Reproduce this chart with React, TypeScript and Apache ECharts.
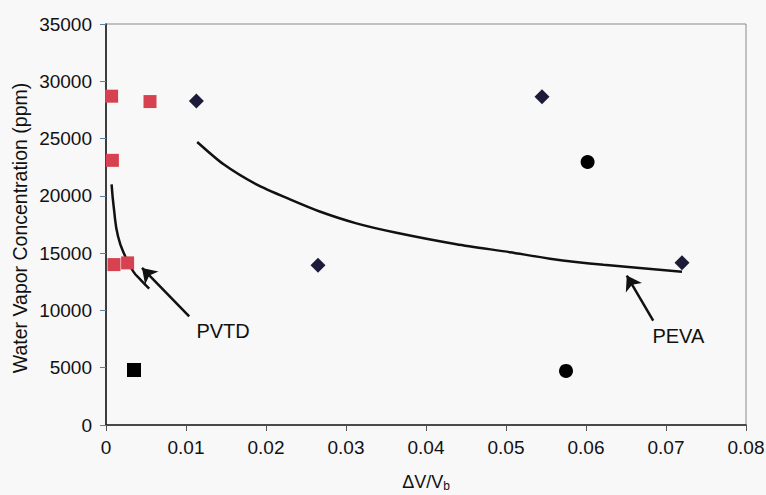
import React, { useEffect, useRef } from "react";
import * as echarts from "echarts";

// PVTD measurements (red squares)
const pvtdX = [0.0007, 0.0055, 0.0008, 0.001, 0.0027];
const pvtdY = [28700, 28230, 23100, 14000, 14150];
// Extra black square
const blackSqX = [0.0035];
const blackSqY = [4800];
// PEVA measurements (diamonds)
const pevaX = [0.0113, 0.0265, 0.0545, 0.072];
const pevaY = [28290, 13940, 28640, 14170];
// Black circles
const circleX = [0.0602, 0.0575];
const circleY = [22950, 4720];
// PEVA trend curve
const pevaFitX = [0.0114, 0.0147, 0.0188, 0.023, 0.0268, 0.0313, 0.0363, 0.0438, 0.0505, 0.0555, 0.0622, 0.072];
const pevaFitY = [24700, 22750, 21000, 19690, 18610, 17600, 16780, 15780, 15080, 14520, 13980, 13380];
// PVTD trend curve
const pvtdFitX = [0.0007, 0.001, 0.0015, 0.0024, 0.0034, 0.0043, 0.0054];
const pvtdFitY = [21000, 18810, 16480, 14730, 13410, 12690, 11900];
// Annotations
const labelNames = ["PVTD", "PEVA"];
const labelX = [0.0113, 0.0683];
const labelY = [8200, 7750];
const arrowFrom = [[0.0104, 9480], [0.0684, 9100]];
const arrowTo = [[0.0045, 13710], [0.0651, 13040]];
const yTicks = [0, 5000, 10000, 15000, 20000, 25000, 30000, 35000];

const zip = (xs: number[], ys: number[]) => xs.map((x, i) => [x, ys[i]]);

export default function App() {
  const ref = useRef<HTMLDivElement>(null);
  useEffect(() => {
    if (!ref.current) return;
    const chart = echarts.init(ref.current, null, { renderer: "svg" });
    const font = "Liberation Sans, Arial, sans-serif";
    chart.setOption({
      animation: false,
      backgroundColor: "#f8f8f8",
      textStyle: { fontFamily: font },
      grid: {
        left: 106,
        right: 20,
        top: 24,
        bottom: 70,
        show: true,
        borderColor: "#8a8a8a",
        borderWidth: 1,
        backgroundColor: "transparent",
        outerBoundsMode: "none",
        containLabel: false,
      },
      xAxis: {
        type: "value",
        min: 0,
        max: 0.08,
        interval: 0.01,
        axisLine: { onZero: false, lineStyle: { color: "#222", width: 1.5 } },
        axisTick: { show: true, length: 6, lineStyle: { color: "#555" } },
        splitLine: { show: false },
        axisLabel: {
          fontSize: 19,
          color: "#111",
          margin: 13,
          fontFamily: font,
          formatter: (v: number) => (v === 0 ? "0" : v.toFixed(2)),
        },
        name: "ΔV/V{s|b}",
        nameLocation: "middle",
        nameGap: 47,
        nameTextStyle: {
          fontSize: 18,
          color: "#111",
          fontFamily: font,
          rich: { s: { fontSize: 12, verticalAlign: "bottom", padding: [8, 0, 0, 0], color: "#111" } },
        },
      },
      yAxis: {
        type: "value",
        min: yTicks[0],
        max: yTicks[yTicks.length - 1],
        interval: 5000,
        axisLine: { show: true, onZero: false, lineStyle: { color: "#111", width: 1.5 } },
        axisTick: { show: true, length: 6, lineStyle: { color: "#5a7fa8" } },
        splitLine: { show: false },
        axisLabel: {
          fontSize: 19,
          color: "#111",
          margin: 14,
          fontFamily: font,
          formatter: (v: number) => String(v),
        },
      },
      graphic: [
        {
          type: "text",
          x: 20,
          y: 228,
          rotation: Math.PI / 2,
          style: {
            text: "Water Vapor Concentration (ppm)",
            fontSize: 19.5,
            fontFamily: font,
            fill: "#111",
            align: "center",
            verticalAlign: "middle",
          },
        },
      ],
      series: [
        {
          type: "line",
          data: zip(pevaFitX, pevaFitY),
          smooth: 0.25,
          showSymbol: false,
          lineStyle: { color: "#111", width: 2.5 },
          z: 3,
        },
        {
          type: "line",
          data: zip(pvtdFitX, pvtdFitY),
          smooth: 0.5,
          showSymbol: false,
          lineStyle: { color: "#111", width: 2.5 },
          z: 3,
        },
        {
          type: "scatter",
          data: zip(pvtdX, pvtdY),
          symbol: "rect",
          symbolSize: 13,
          itemStyle: { color: "#d6424f", opacity: 1 },
          z: 4,
        },
        {
          type: "scatter",
          data: zip(blackSqX, blackSqY),
          symbol: "rect",
          symbolSize: 14,
          itemStyle: { color: "#000", opacity: 1 },
          z: 4,
        },
        {
          type: "scatter",
          data: zip(pevaX, pevaY),
          symbol: "diamond",
          symbolSize: 15,
          itemStyle: { color: "#1c1c3a", opacity: 1 },
          z: 4,
        },
        {
          type: "scatter",
          data: zip(circleX, circleY),
          symbol: "circle",
          symbolSize: 14,
          itemStyle: { color: "#000", opacity: 1 },
          z: 4,
        },
        {
          type: "scatter",
          data: labelNames.map((n, i) => ({ name: n, value: [labelX[i], labelY[i]] })),
          symbolSize: 0,
          silent: true,
          itemStyle: { opacity: 1 },
          label: {
            show: true,
            position: "right",
            distance: 0,
            formatter: (p: any) => p.name,
            fontSize: 20,
            color: "#111",
            fontFamily: font,
          },
          markLine: {
            silent: true,
            symbol: ["none", "arrow"],
            symbolSize: 14,
            label: { show: false },
            itemStyle: { color: "#111", opacity: 1 },
            lineStyle: { color: "#111", width: 2.5, type: "solid", opacity: 1 },
            data: arrowFrom.map((f, i) => [{ coord: f }, { coord: arrowTo[i] }]),
          },
          z: 5,
        },
      ],
    });
    return () => chart.dispose();
  }, []);
  return (
    <div
      ref={ref}
      style={{ position: "absolute", left: 0, top: 0, width: 766, height: 495 }}
    />
  );
}
